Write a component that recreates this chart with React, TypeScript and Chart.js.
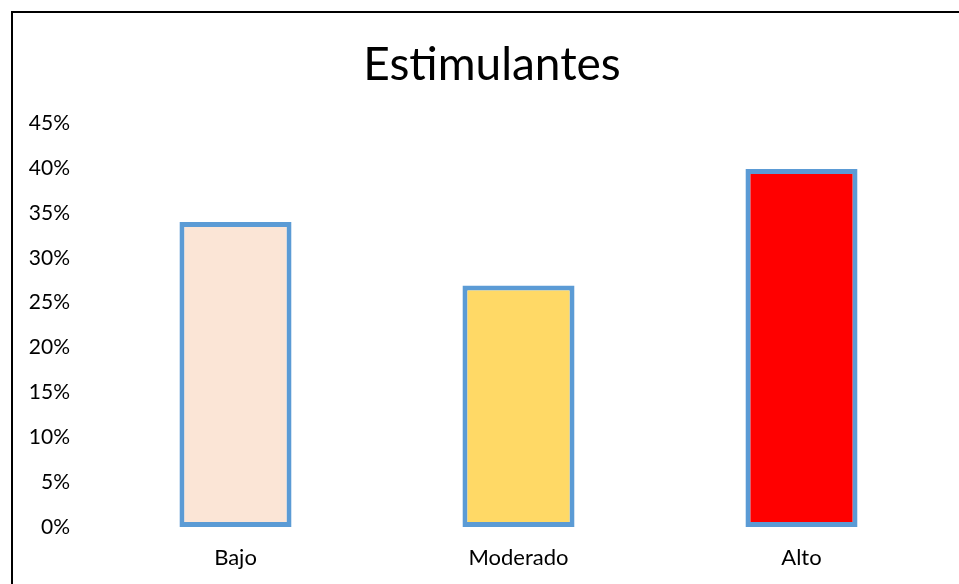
import React, { useEffect, useRef } from "react";
import { Chart, registerables } from "chart.js";

Chart.register(...registerables);

const categories = ["Bajo", "Moderado", "Alto"];
const values = [34.0, 26.9, 39.9];
const fillColors = ["#FBE5D6", "#FFD966", "#FF0000"];
const borderColor = "#5B9BD5";
const yTicks = [0, 5, 10, 15, 20, 25, 30, 35, 40, 45];
const titleText = "Estimulantes";

const FONT = "Lato, 'Open Sans', sans-serif";

export default function App() {
  const ref = useRef<HTMLCanvasElement | null>(null);

  useEffect(() => {
    if (!ref.current) return;
    const chart = new Chart(ref.current, {
      type: "bar",
      data: {
        labels: categories,
        datasets: [
          {
            data: values,
            backgroundColor: fillColors,
            borderColor: borderColor,
            borderWidth: 5,
            borderSkipped: false,
            barPercentage: 0.396,
            categoryPercentage: 1,
            yAxisID: "y",
          },
        ],
      },
      options: {
        animation: false,
        responsive: false,
        maintainAspectRatio: false,
        layout: { padding: { left: 25, right: 0, top: 0, bottom: 0 } },
        plugins: {
          legend: { display: false },
          tooltip: { enabled: false },
          title: {
            display: true,
            text: titleText,
            color: "#000000",
            font: { family: FONT, size: 46, weight: "normal" },
            padding: { top: 38, bottom: 30 },
          },
        },
        scales: {
          x: {
            afterFit: (scale: any) => {
              scale.height = 57;
            },
            grid: { display: false, drawTicks: false },
            border: { display: false },
            ticks: {
              color: "#000000",
              font: { family: FONT, size: 22 },
              padding: 18,
            },
          },
          y: {
            min: 0,
            max: 45,
            afterBuildTicks: (scale: any) => {
              scale.ticks = yTicks.map((v) => ({ value: v }));
            },
            afterFit: (scale: any) => {
              scale.width = 69;
            },
            grid: { display: false, drawTicks: false },
            border: { display: false },
            ticks: {
              color: "#000000",
              font: { family: FONT, size: 21 },
              padding: 24,
              callback: (v: any) => `${v}%`,
            },
          },
          yRight: {
            position: "right",
            min: 0,
            max: 45,
            afterFit: (scale: any) => {
              scale.width = 16;
            },
            grid: { display: false, drawTicks: false },
            border: { display: false },
            ticks: { display: false },
          },
        },
      },
    });
    return () => chart.destroy();
  }, []);

  return (
    <div
      style={{
        position: "fixed",
        left: 0,
        top: 0,
        width: 959,
        height: 584,
        background: "#ffffff",
        overflow: "hidden",
      }}
    >
      <canvas ref={ref} width={959} height={584} style={{ position: "absolute", left: 0, top: 0 }} />
      <div
        style={{
          position: "absolute",
          left: 11,
          top: 11,
          width: 1000,
          height: 1000,
          border: "2px solid #000000",
          pointerEvents: "none",
        }}
      />
    </div>
  );
}
